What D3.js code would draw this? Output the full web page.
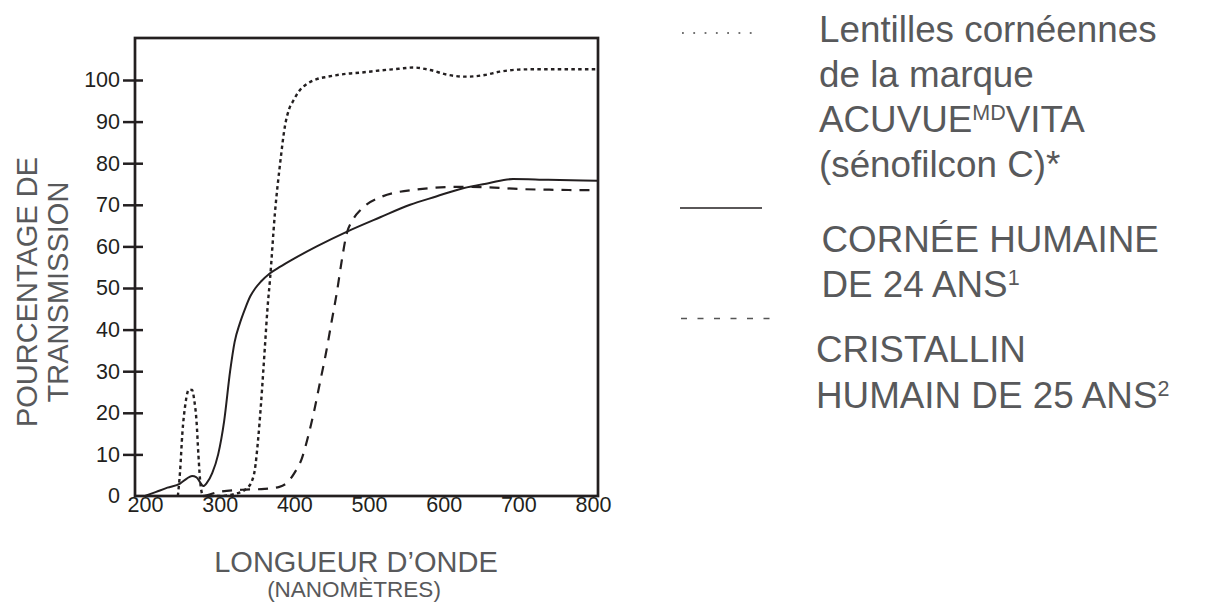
<!DOCTYPE html>
<html>
<head>
<meta charset="utf-8">
<script src="https://cdn.jsdelivr.net/npm/d3@7/dist/d3.min.js"></script>
<style>
  html, body { margin: 0; padding: 0; background: #fff; }
  svg { display: block; font-family: "Liberation Sans", Arial, sans-serif; }
</style>
</head>
<body>
<svg id="chart" width="1227" height="605"></svg>
<script>
// ---- Data ----
const xTicks = [200, 300, 400, 500, 600, 700, 800];
const yTicks = [0, 10, 20, 30, 40, 50, 60, 70, 80, 90, 100];

// Contact lens (dotted)
const lensWl = [244, 247, 250, 254, 259, 263, 266, 269, 271.5, 274.5, 278, 300, 320, 336, 343, 347, 351.7, 355.3, 358.4, 361, 364, 367.4, 374, 381, 387.5, 393, 398.6, 407, 416.5, 430, 445, 470, 490, 515, 540, 559, 582, 604, 630, 655, 675, 700, 730, 770, 806];
const lensT  = [0, 6, 15, 22, 25.6, 25.5, 23, 18, 10, 2.5, 0, 0, 0.5, 1.8, 3.5, 6.2, 14, 22, 30, 37, 45, 52, 68, 80, 89, 93, 95, 97.5, 99, 100.2, 100.8, 101.5, 101.8, 102.3, 102.7, 103, 102.4, 101.3, 100.8, 101.2, 102, 102.5, 102.6, 102.6, 102.6];

// Human cornea, 24 years (solid)
const corneaWl = [200, 215, 230, 247, 256, 263, 269, 274, 278, 283, 290, 298, 306, 314, 320, 327, 334, 341, 348, 355, 367, 380, 399, 430, 470, 515, 555, 590, 626, 660, 693, 740, 806];
const corneaT  = [0, 1, 2, 3, 4.2, 4.8, 4.5, 3.2, 2.4, 3.2, 5.5, 10, 18, 30, 37, 41.5, 45, 48, 50, 51.5, 53.5, 55, 57, 60, 63.5, 67, 70, 72, 74, 75.2, 76.2, 76, 75.8];

// Human crystalline lens, 25 years (dashed)
const crystWl = [280, 300, 330, 360, 380, 392, 400, 410, 418, 426, 434, 442, 450, 457, 463, 470, 478, 490, 515, 560, 620, 660, 700, 750, 806];
const crystT  = [0, 1, 1.5, 1.7, 2.2, 3.5, 5.5, 9, 14, 20, 27, 34, 42, 49, 56, 63, 66.3, 69, 71.8, 73.6, 74.3, 74.2, 73.8, 73.6, 73.5];

const legendLens   = ["Lentilles cornéennes", "de la marque", "ACUVUE^MD^VITA", "(sénofilcon C)*"];
const legendCornea = ["CORNÉE HUMAINE", "DE 24 ANS^1^"];
const legendCryst  = ["CRISTALLIN", "HUMAIN DE 25 ANS^2^"];

// ---- Layout ----
const svg = d3.select("#chart");
const frame = { left: 135, right: 598, top: 38, bottom: 496 };
const x = d3.scaleLinear().domain([200, 800]).range([145, 593]);
const y = d3.scaleLinear().domain([0, 100]).range([496, 80]);

const ink = "#231f20";
const gray = "#58595b";
const FONT = "'Liberation Sans', Arial, sans-serif";

// Curves
const line = d3.line().x(d => x(d[0])).y(d => y(d[1])).curve(d3.curveMonotoneX);
const zip = (a, b) => a.map((v, i) => [v, b[i]]);

const g = svg.append("g");
g.append("path").datum(zip(crystWl, crystT)).attr("d", line)
  .attr("fill", "none").attr("stroke", ink).attr("stroke-width", 2.2)
  .attr("stroke-dasharray", "10,8");
g.append("path").datum(zip(lensWl, lensT)).attr("d", line)
  .attr("fill", "none").attr("stroke", ink).attr("stroke-width", 2.4)
  .attr("stroke-dasharray", "3.5,3.3");
g.append("path").datum(zip(corneaWl, corneaT)).attr("d", line)
  .attr("fill", "none").attr("stroke", ink).attr("stroke-width", 2);

// Frame
svg.append("rect")
  .attr("x", frame.left).attr("y", frame.top)
  .attr("width", frame.right - frame.left).attr("height", frame.bottom - frame.top)
  .attr("fill", "none").attr("stroke", ink).attr("stroke-width", 2.7);

// Y axis
const yAxis = svg.append("g").attr("transform", `translate(${frame.left},0)`)
  .call(d3.axisLeft(y).tickValues(yTicks).tickSizeInner(12).tickSizeOuter(0).tickPadding(3));
yAxis.attr("font-family", FONT);
yAxis.select(".domain").remove();
yAxis.selectAll(".tick line")
  .attr("x2", 8).attr("x1", -12)
  .attr("stroke", ink).attr("stroke-width", 2.5)
  .filter(d => d === 0).remove();
yAxis.selectAll(".tick text")
  .attr("font-size", 21.5).attr("fill", ink)
  .attr("x", -15);

// X axis
const xAxis = svg.append("g").attr("transform", `translate(0,${frame.bottom})`)
  .call(d3.axisBottom(x).tickValues(xTicks).tickSize(0).tickPadding(1));
xAxis.attr("font-family", FONT);
xAxis.select(".domain").remove();
xAxis.selectAll(".tick text")
  .attr("font-size", 21.5).attr("fill", ink);

// Axis titles
svg.append("text").attr("x", 356).attr("y", 572).attr("text-anchor", "middle")
  .attr("font-size", 29).attr("fill", gray).text("LONGUEUR D’ONDE");
svg.append("text").attr("x", 354).attr("y", 597).attr("text-anchor", "middle")
  .attr("font-size", 22.5).attr("fill", gray).text("(NANOMÈTRES)");

svg.append("text").attr("transform", "translate(37,292) rotate(-90)")
  .attr("text-anchor", "middle").attr("font-size", 29).attr("fill", gray).text("POURCENTAGE DE");
svg.append("text").attr("transform", "translate(68,292) rotate(-90)")
  .attr("text-anchor", "middle").attr("font-size", 29).attr("fill", gray).text("TRANSMISSION");

// Legend
function legendBlock(lines, x0, baselines) {
  lines.forEach((ln, i) => {
    const t = svg.append("text").attr("x", x0).attr("y", baselines[i])
      .attr("font-size", 36.8).attr("fill", gray);
    const parts = ln.split("^");
    let raised = false;
    parts.forEach((p, k) => {
      const isSup = k % 2 === 1;
      if (p === "" && !isSup) return;
      const ts = t.append("tspan").text(p);
      if (isSup) { ts.attr("font-size", 21.5).attr("dy", -12); raised = true; }
      else if (raised) { ts.attr("dy", 12); raised = false; }
    });
  });
}
legendBlock(legendLens, 819, [41.7, 87, 131.5, 176.5]);
legendBlock(legendCornea, 821.5, [251.7, 296.7]);
legendBlock(legendCryst, 816, [361.7, 408]);

svg.append("line").attr("x1", 682).attr("x2", 752).attr("y1", 33).attr("y2", 33)
  .attr("stroke", "#444").attr("stroke-width", 1.6).attr("stroke-dasharray", "1.8,9.5");
svg.append("line").attr("x1", 680).attr("x2", 762).attr("y1", 208).attr("y2", 208)
  .attr("stroke", ink).attr("stroke-width", 1.5);
svg.append("line").attr("x1", 681).attr("x2", 771).attr("y1", 318.5).attr("y2", 318.5)
  .attr("stroke", "#555").attr("stroke-width", 1.5).attr("stroke-dasharray", "6,10.5");
</script>
</body>
</html>
